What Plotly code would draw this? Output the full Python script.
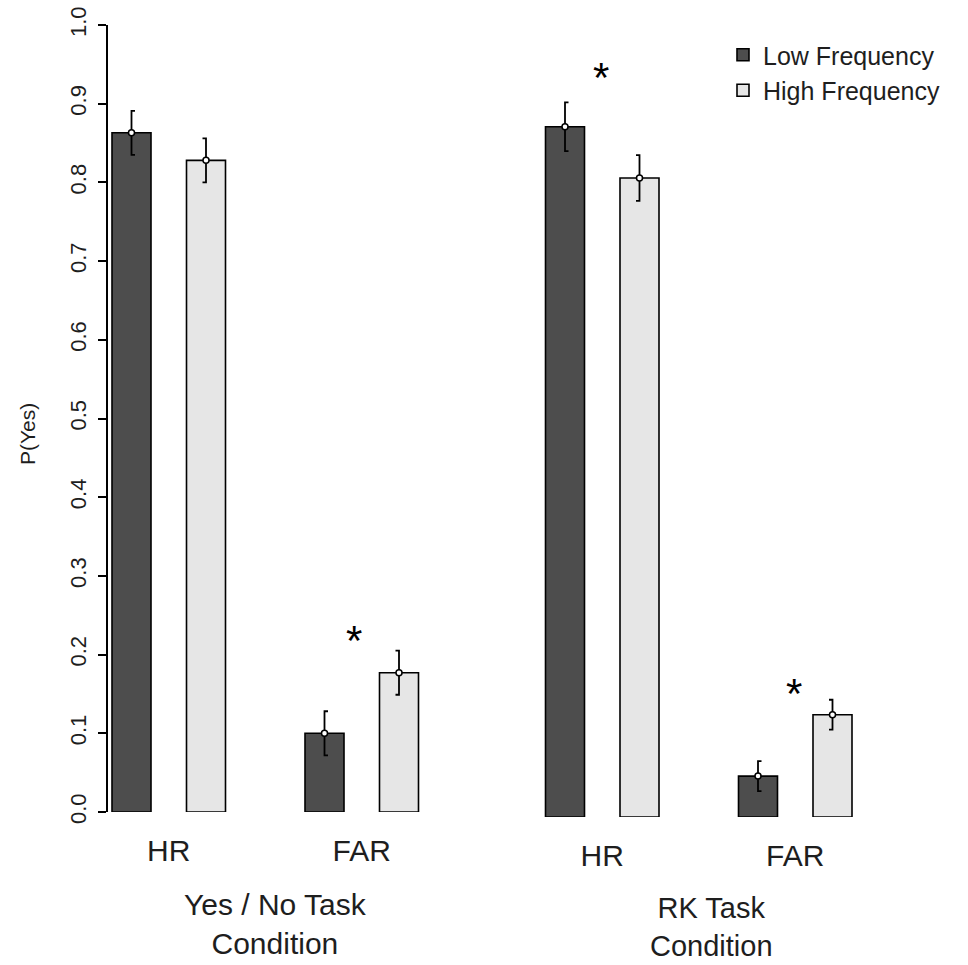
import plotly.graph_objects as go

# ---------------- data ----------------
conditions = ["HR", "FAR"]
tasks = ["Yes / No Task<br>Condition", "RK Task<br>Condition"]
series = ["Low Frequency", "High Frequency"]
low_mean = [0.863, 0.100, 0.877, 0.052]
low_se = [0.028, 0.028, 0.031, 0.019]
high_mean = [0.828, 0.177, 0.812, 0.130]
high_se = [0.028, 0.028, 0.029, 0.019]
star_y = [None, 0.225, 0.947, 0.164]
y_ticks = [0.0, 0.1, 0.2, 0.3, 0.4, 0.5, 0.6, 0.7, 0.8, 0.9, 1.0]

# ---------------- layout constants ----------------
W, H = 968, 965
L, R, T, B = 107, 0, 25, 147
plot_w = W - L - R
plot_h = H - T - B
split = 373                      # x units (≈ px) where the right panel starts
panel_offset = [61.75, 495.25]
cond_offset = [0, 193]
series_offset = [-37.25, 37.25]
bar_w = 39
cap = 3.5
colors = ["#4d4d4d", "#e6e6e6"]
font_fam = "Liberation Sans, Arial, sans-serif"
txt = "#1e1e1e"

means = [low_mean, high_mean]
ses = [low_se, high_se]

fig = go.Figure()
axes = [("x", "y"), ("x2", "y2")]

for p in range(2):
    xa, ya = axes[p]
    for s in range(2):
        xs, ys, ex, ey = [], [], [], []
        side = 1 if s == 0 else -1
        for c in range(2):
            k = p * 2 + c
            xc = panel_offset[p] + cond_offset[c] + series_offset[s]
            m, e = means[s][k], ses[s][k]
            xs.append(xc)
            ys.append(m)
            ex += [xc + side * cap, xc, xc, xc + side * cap, None]
            ey += [m + e, m + e, m - e, m - e, None]
        fig.add_trace(go.Bar(
            x=xs, y=ys, width=bar_w, name=series[s], legendgroup=series[s],
            showlegend=(p == 0), xaxis=xa, yaxis=ya,
            marker=dict(color=colors[s], line=dict(color="#000", width=1.6)),
        ))
        fig.add_trace(go.Scatter(
            x=ex, y=ey, mode="lines", xaxis=xa, yaxis=ya, showlegend=False,
            line=dict(color="#000", width=1.8), hoverinfo="skip",
        ))
        fig.add_trace(go.Scatter(
            x=xs, y=ys, mode="markers", xaxis=xa, yaxis=ya, showlegend=False,
            marker=dict(symbol="circle", size=6, color="white",
                        line=dict(color="#000", width=1.5)),
            hoverinfo="skip",
        ))

# significance stars
for k, sy in enumerate(star_y):
    if sy is None:
        continue
    p, c = divmod(k, 2)
    xa, ya = axes[p]
    xc = panel_offset[p] + cond_offset[c] - (8 if p == 0 else 1)
    fig.add_annotation(x=xc, y=sy, xref=xa, yref=ya, text="*", showarrow=False,
                       font=dict(family=font_fam, size=42, color="#000"),
                       yshift=-6)

# panel titles
panel_title_x = [168, 604]
panel_title_y = [(818 - 924) / plot_h, (818 - 927) / plot_h]
panel_title_size = [30, 29]
for p in range(2):
    fig.add_annotation(x=panel_title_x[p], y=panel_title_y[p], xref=axes[p][0], yref="paper",
                       xanchor="center", yanchor="middle",
                       text=tasks[p], showarrow=False, align="center",
                       font=dict(family=font_fam, size=panel_title_size[p], color=txt))

# y-axis title
fig.add_annotation(x=(27 - L) / plot_w, y=(818 - 434) / plot_h, xref="paper", yref="paper",
                   xanchor="center", yanchor="middle",
                   text="P(Yes)", textangle=-90, showarrow=False,
                   font=dict(family=font_fam, size=21, color=txt))

xcommon = dict(showgrid=False, zeroline=False, showline=False, ticks="",
               tickfont=dict(family=font_fam, size=30, color=txt),
               ticklabelstandoff=18, fixedrange=True)

fig.update_layout(
    width=W, height=H,
    margin=dict(l=L, r=R, t=T, b=B),
    paper_bgcolor="white", plot_bgcolor="white",
    barmode="overlay",
    xaxis=dict(domain=[0, split / plot_w], range=[0, split], anchor="y",
               tickvals=[panel_offset[0] + o for o in cond_offset], ticktext=conditions, **xcommon),
    xaxis2=dict(domain=[split / plot_w, 1], range=[split, plot_w], anchor="y2",
                tickvals=[panel_offset[1] + o for o in cond_offset], ticktext=conditions, **xcommon),
    yaxis=dict(domain=[(818 - 812) / plot_h, 1], range=[0, 1], anchor="free", position=0,
               tickvals=y_ticks, ticktext=[f"{v:.1f}" for v in y_ticks],
               tickangle=-90, ticks="outside", ticklen=8, tickwidth=1.5, tickcolor="#000",
               showline=True, linecolor="#000", linewidth=1.5, showgrid=False, zeroline=False,
               tickfont=dict(family=font_fam, size=22, color=txt), ticklabelstandoff=3),
    yaxis2=dict(domain=[(818 - 817) / plot_h, (818 - 30) / plot_h], range=[0, 1],
                anchor="x2", visible=False, showgrid=False, zeroline=False),
    legend=dict(x=(723 - L) / plot_w, y=1 - 7 / plot_h, xanchor="left", yanchor="top",
                bgcolor="rgba(0,0,0,0)", font=dict(family=font_fam, size=25, color=txt),
                tracegroupgap=0, itemwidth=30),
    showlegend=True,
)

fig.write_html("out.html")
